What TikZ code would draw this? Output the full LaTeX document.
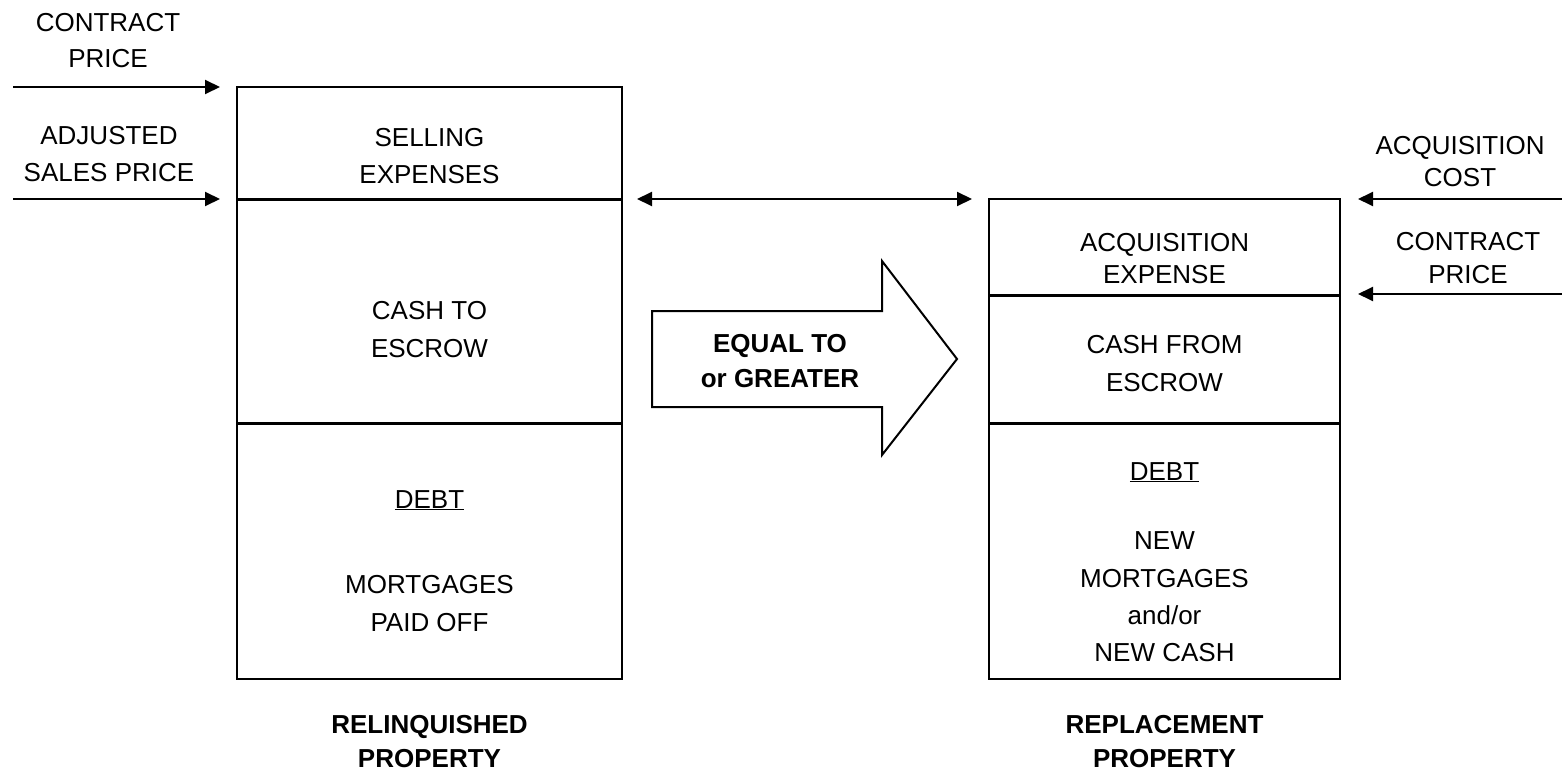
\documentclass[tikz,border=0pt]{standalone}
\usepackage{fontspec}
\setmainfont{Liberation Sans}
\usetikzlibrary{arrows.meta}
\tikzset{
  txt/.style={inner sep=0pt, anchor=base, font=\fontsize{26}{32}\selectfont},
  btxt/.style={inner sep=0pt, anchor=base, font=\fontsize{26}{32}\selectfont\bfseries},
  boxline/.style={line width=2pt, draw=black},
  divline/.style={line width=3pt, draw=black},
  arr/.style={line width=2pt, -{Triangle[length=15pt,width=14pt]}},
  darr/.style={line width=2pt, {Triangle[length=15pt,width=14pt]}-{Triangle[length=15pt,width=14pt]}},
  blockarrow/.style={line width=2pt, draw=black, fill=white, line join=miter}
}
\begin{document}
\begin{tikzpicture}[x=1pt,y=-1pt]
\useasboundingbox (0,0) rectangle (1562,770);
% coordinates
\coordinate (la1) at (13,87);  \coordinate (lb1) at (220,87);
\coordinate (la2) at (13,199); \coordinate (lb2) at (220,199);
\coordinate (da) at (637,199); \coordinate (db) at (972,199);
\coordinate (ra1) at (1562,199); \coordinate (rb1) at (1358,199);
\coordinate (ra2) at (1562,294); \coordinate (rb2) at (1358,294);
% left box
\draw[boxline] (237,87) rectangle (622,679);
\draw[divline] (237,199) -- (622,199);
\draw[divline] (237,423) -- (622,423);
% right box
\draw[boxline] (989,199) rectangle (1340,679);
\draw[divline] (989,295) -- (1340,295);
\draw[divline] (989,423) -- (1340,423);
% arrows
\draw[arr] (la1) -- (lb1);
\draw[arr] (la2) -- (lb2);
\draw[darr] (da) -- (db);
\draw[arr] (ra1) -- (rb1);
\draw[arr] (ra2) -- (rb2);
% block arrow
\draw[blockarrow] (652,311) -- (882,311) -- (882,261) -- (957,359) -- (882,455) -- (882,407) -- (652,407) -- cycle;
\node[btxt] (eq1) at (780,352) {EQUAL TO};
\node[btxt] (eq2) at (780,387) {or GREATER};
% left outer texts
\node[txt] (cp1) at (108,32) {CONTRACT};
\node[txt] (cp2) at (108,68) {PRICE};
\node[txt] (as1) at (109,145) {ADJUSTED};
\node[txt] (as2) at (109,182) {SALES PRICE};
% left box texts
\node[txt] (se1) at (429.5,147) {SELLING};
\node[txt] (se2) at (429.5,183) {EXPENSES};
\node[txt] (ce1) at (429.5,319) {CASH TO};
\node[txt] (ce2) at (429.5,357) {ESCROW};
\node[txt] (ld) at (429.5,508) {\underline{DEBT}};
\node[txt] (lm1) at (429.5,593) {MORTGAGES};
\node[txt] (lm2) at (429.5,631) {PAID OFF};
\node[btxt] (rp1) at (429.5,733) {RELINQUISHED};
\node[btxt] (rp2) at (429.5,767) {PROPERTY};
% right box texts
\node[txt] (ae1) at (1164.5,251) {ACQUISITION};
\node[txt] (ae2) at (1164.5,283) {EXPENSE};
\node[txt] (cf1) at (1164.5,353) {CASH FROM};
\node[txt] (cf2) at (1164.5,391) {ESCROW};
\node[txt] (rd) at (1164.5,480) {\underline{DEBT}};
\node[txt] (nm1) at (1164.5,549) {NEW};
\node[txt] (nm2) at (1164.5,587) {MORTGAGES};
\node[txt] (nm3) at (1164.5,624) {and/or};
\node[txt] (nm4) at (1164.5,661) {NEW CASH};
\node[btxt] (rr1) at (1164.5,733) {REPLACEMENT};
\node[btxt] (rr2) at (1164.5,767) {PROPERTY};
% right outer texts
\node[txt] (ac1) at (1460,155) {ACQUISITION};
\node[txt] (ac2) at (1460,186) {COST};
\node[txt] (rc1) at (1468,250) {CONTRACT};
\node[txt] (rc2) at (1468,283) {PRICE};
\end{tikzpicture}
\end{document}
